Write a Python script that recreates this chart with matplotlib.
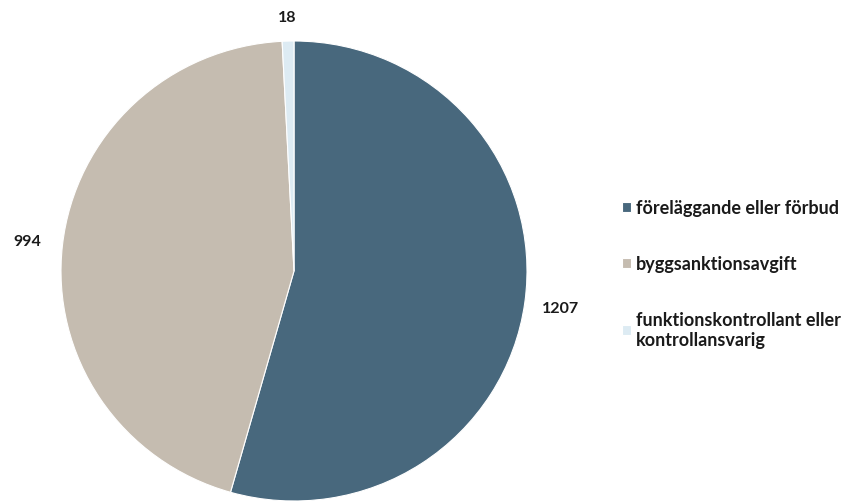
import matplotlib
matplotlib.use("Agg")
import matplotlib.pyplot as plt
import numpy as np

categories = ["föreläggande eller förbud", "byggsanktionsavgift",
              "funktionskontrollant eller\nkontrollansvarig"]
values = [1207, 994, 18]
colors = ["#48687D", "#C5BCB0", "#DDEBF3"]
label_dist = [1.155, 1.15, 1.105]

plt.rcParams['font.family'] = ['Lato', 'DejaVu Sans']

fig = plt.figure(figsize=(8.49, 5.02), dpi=100)
ax = fig.add_axes([61 / 849, 0.0, 466 / 849, 460 / 502])
wedges, _ = ax.pie(values, colors=colors, startangle=90, counterclock=False,
                   wedgeprops=dict(edgecolor="white", linewidth=0.8))
ax.set_xlim(-1, 1)
ax.set_ylim(-1, 1)
ax.set_aspect('auto')

for w, v, d in zip(wedges, values, label_dist):
    ang = np.deg2rad((w.theta1 + w.theta2) / 2)
    ax.text(d * np.cos(ang), d * np.sin(ang), str(v), ha='center', va='center',
            fontsize=11.5, fontweight='bold', color='#1a1a1a', clip_on=False)

leg = fig.legend(wedges, categories, loc='upper left',
                 bbox_to_anchor=(606 / 849, 1 - 184 / 502), frameon=False,
                 handlelength=0.5, handleheight=0.5, handletextpad=0.25,
                 labelspacing=2.15, prop=dict(size=13, weight='bold'))
for t in leg.get_texts():
    t.set_color('#1a1a1a')

fig.savefig("out.png", dpi=100)
